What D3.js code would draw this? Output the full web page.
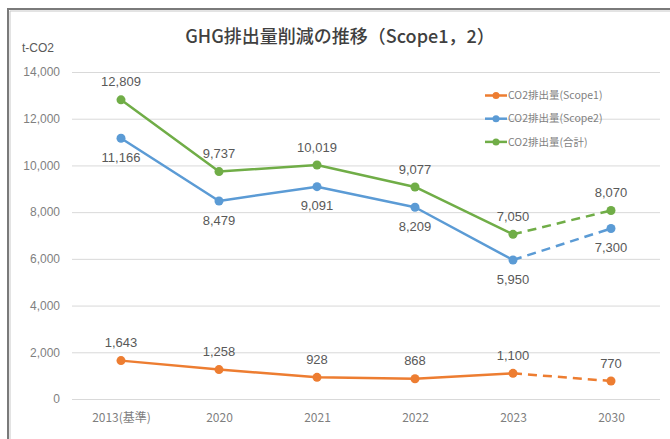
<!DOCTYPE html>
<html>
<head>
<meta charset="utf-8">
<script src="https://cdn.jsdelivr.net/npm/d3@7/dist/d3.min.js"></script>
<style>
  html, body { margin: 0; padding: 0; background: #fff; }
  svg { display: block; }
</style>
</head>
<body>
<svg id="chart" width="670" height="439"></svg>
<script>
const categories = ["2013(基準)", "2020", "2021", "2022", "2023", "2030"];
const scope1 = [1643, 1258, 928, 868, 1100, 770];
const scope2 = [11166, 8479, 9091, 8209, 5950, 7300];
const total = [12809, 9737, 10019, 9077, 7050, 8070];
const yTicks = [0, 2000, 4000, 6000, 8000, 10000, 12000, 14000];
const seriesNames = ["CO2排出量(Scope1)", "CO2排出量(Scope2)", "CO2排出量(合計)"];
const titleText = "GHG排出量削減の推移（Scope1，2）";
const unitText = "t-CO2";

const series = [
  { name: seriesNames[0], values: scope1, color: "#ED7D31", labelPos: "above" },
  { name: seriesNames[1], values: scope2, color: "#5B9BD5", labelPos: "below" },
  { name: seriesNames[2], values: total, color: "#70AD47", labelPos: "above" }
];

const svg = d3.select("#chart");
const W = 670, H = 439;
const plot = { left: 72, right: 660, top: 72, bottom: 399 };

svg.append("rect").attr("width", W).attr("height", H).attr("fill", "#fff");

// frame (top and left edges visible)
svg.append("path").attr("d", `M8,${H} V9 H${W}`).attr("fill", "none")
  .attr("stroke", "#7a7a7a").attr("stroke-width", 2);
svg.append("path").attr("d", `M10,${H} V11 H${W}`).attr("fill", "none")
  .attr("stroke", "#c8c8c8").attr("stroke-width", 1);

const x = d3.scalePoint().domain(categories).range([plot.left, plot.right]).padding(0.5);
const y = d3.scaleLinear().domain([0, 14000]).range([plot.bottom, plot.top]);

const fontMain = "'Liberation Sans', 'Noto Sans CJK JP', sans-serif";
const fontJP = "'Noto Sans CJK JP', 'Liberation Sans', sans-serif";

// y axis with gridlines
const yAxis = svg.append("g").attr("transform", `translate(${plot.left},0)`)
  .call(d3.axisLeft(y).tickValues(yTicks).tickFormat(d3.format(","))
    .tickSize(-(plot.right - plot.left)).tickPadding(12));
yAxis.select(".domain").remove();
yAxis.selectAll(".tick line").attr("stroke", "#d9d9d9").attr("stroke-width", 1);
yAxis.selectAll(".tick text").attr("fill", "#7f7f7f")
  .style("font-family", fontMain).style("font-size", "12px");

// x axis
const xAxis = svg.append("g").attr("transform", `translate(0,${plot.bottom})`)
  .call(d3.axisBottom(x).tickSize(0).tickPadding(14));
xAxis.select(".domain").remove();
xAxis.selectAll(".tick text").attr("fill", "#7f7f7f")
  .style("font-family", fontJP).style("font-size", "12px");

// title and unit
svg.append("text").attr("x", 340).attr("y", 43).attr("text-anchor", "middle")
  .attr("fill", "#404040").style("font-family", fontJP).style("font-size", "18px")
  .style("font-weight", "500").text(titleText);
svg.append("text").attr("x", 22).attr("y", 52).attr("fill", "#595959")
  .style("font-family", fontMain).style("font-size", "12px").text(unitText);

const line = d3.line().x(d => x(d.c)).y(d => y(d.v));

series.forEach(s => {
  const pts = s.values.map((v, i) => ({ c: categories[i], v }));
  const g = svg.append("g");
  g.append("path").datum(pts.slice(0, 5)).attr("d", line)
    .attr("fill", "none").attr("stroke", s.color).attr("stroke-width", 2.5)
    .attr("stroke-linejoin", "round");
  g.append("path").datum(pts.slice(4, 6)).attr("d", line)
    .attr("fill", "none").attr("stroke", s.color).attr("stroke-width", 2.5)
    .attr("stroke-dasharray", "9,6");
  g.selectAll("circle").data(pts).join("circle")
    .attr("cx", d => x(d.c)).attr("cy", d => y(d.v)).attr("r", 4.5)
    .attr("fill", s.color);
  g.selectAll("text.lbl").data(pts).join("text").attr("class", "lbl")
    .attr("x", d => x(d.c))
    .attr("y", d => y(d.v) + (s.labelPos === "above" ? -18 : 19))
    .attr("dy", "0.35em").attr("text-anchor", "middle")
    .attr("fill", "#595959").style("font-family", fontMain).style("font-size", "13px")
    .text(d => d3.format(",")(d.v));
});

// legend
const legend = svg.append("g");
series.forEach((s, i) => {
  const ly = 95.5 + i * 23.2;
  legend.append("line").attr("x1", 485).attr("x2", 507).attr("y1", ly).attr("y2", ly)
    .attr("stroke", s.color).attr("stroke-width", 2.5);
  legend.append("circle").attr("cx", 496).attr("cy", ly).attr("r", 3.5).attr("fill", s.color);
  legend.append("text").attr("x", 508).attr("y", ly).attr("dy", "0.35em")
    .attr("fill", "#7f7f7f").style("font-family", fontJP).style("font-size", "10.5px")
    .text(s.name);
});
</script>
</body>
</html>
